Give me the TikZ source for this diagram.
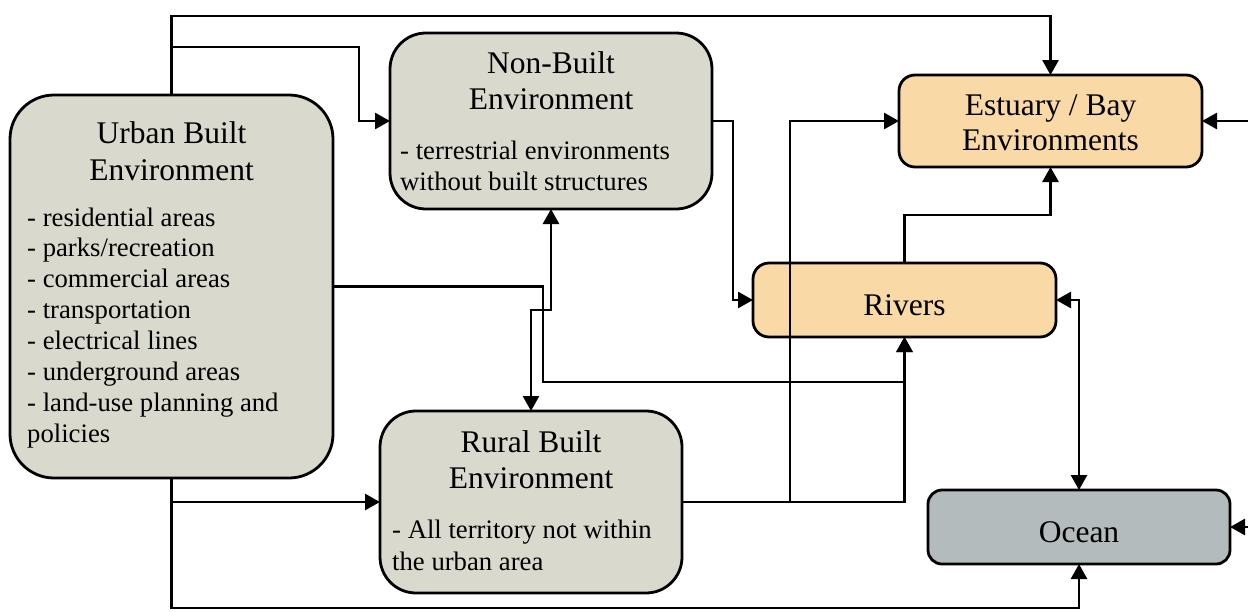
\documentclass[tikz,border=0pt]{standalone}
\usepackage{fontspec}
\setmainfont{Liberation Serif}
\usetikzlibrary{arrows.meta}

\definecolor{landfill}{HTML}{D9DACD}
\definecolor{waterfill}{HTML}{F9D9A6}
\definecolor{oceanfill}{HTML}{B4BBBC}

\tikzset{
  boxbase/.style={draw=black, line width=2.8pt, inner sep=0pt, outer sep=0pt},
  landbox/.style={boxbase, fill=landfill},
  waterbox/.style={boxbase, fill=waterfill, rounded corners=16pt},
  oceanbox/.style={boxbase, fill=oceanfill, rounded corners=14pt},
  titletext/.style={anchor=base, inner sep=0pt, font=\fontsize{31.5}{36}\selectfont},
  itemtext/.style={anchor=base west, inner sep=0pt, font=\fontsize{26.7}{31}\selectfont},
  conn/.style={draw=black, line width=2.7pt},
  tip/.style={Triangle[length=15pt 0 0,width=16pt 0 0]},
  arr/.style={conn, -{Triangle[length=15pt 0 0,width=16pt 0 0]}},
  biarr/.style={conn, {Triangle[length=15pt 0 0,width=16pt 0 0]}-{Triangle[length=15pt 0 0,width=16pt 0 0]}}
}

\begin{document}
\begin{tikzpicture}[x=1pt, y=-1pt]
\useasboundingbox (0,0) rectangle (1248,611);

% boxes
\node[landbox, rounded corners=44pt, minimum width=323pt, minimum height=383pt] (urban) at (171.5,286.5) {};
\node[landbox, rounded corners=36pt, minimum width=322pt, minimum height=176pt] (nonbuilt) at (551,121) {};
\node[landbox, rounded corners=36pt, minimum width=302pt, minimum height=182pt] (rural) at (531,502) {};
\node[waterbox, minimum width=303pt, minimum height=92pt] (estuary) at (1050.5,121) {};
\node[waterbox, minimum width=303pt, minimum height=74pt] (rivers) at (904.5,300) {};
\node[oceanbox, minimum width=302pt, minimum height=74pt] (ocean) at (1079,527) {};

% titles
\node[titletext] (urbanT1) at (171.5,143) {Urban Built};
\node[titletext] (urbanT2) at (171.5,180) {Environment};
\node[titletext] (nonbuiltT1) at (551,73) {Non-Built};
\node[titletext] (nonbuiltT2) at (551,109) {Environment};
\node[titletext] (ruralT1) at (531,452) {Rural Built};
\node[titletext] (ruralT2) at (531,488) {Environment};
\node[titletext] (estuaryT1) at (1050.5,115) {Estuary / Bay};
\node[titletext] (estuaryT2) at (1050.5,150) {Environments};
\node[titletext] (riversT) at (904.5,315) {Rivers};
\node[titletext] (oceanT) at (1079,542) {Ocean};

% item lists
\foreach \txt [count=\i] in {- residential areas, - parks/recreation, - commercial areas,
    - transportation, - electrical lines, - underground areas,
    - land-use planning and, policies}
  \node[itemtext] (urbanI\i) at (27,{226+30.9*(\i-1)}) {\txt};
\node[itemtext] (nonbuiltI1) at (400,159) {- terrestrial environments};
\node[itemtext] (nonbuiltI2) at (400,190) {without built structures};
\node[itemtext] (ruralI1) at (392,538) {- All territory not within};
\node[itemtext] (ruralI2) at (392,570) {the urban area};

% junctions and free ends
\coordinate (jTop) at (171.5,47);
\coordinate (jLow) at (171.5,502);
\coordinate (jRural) at (790,502);
\coordinate (edgeE) at (1248,121);
\coordinate (edgeO) at (1248,527);

% connectors
\draw[arr] (urban.north) -- (171.5,16) -| (estuary.north);
\draw[arr] (jTop) -- (359,47) |- (nonbuilt.west);
\draw[arr] (urban.east) -| (543,382) -| (rivers.south);
\draw[arr] (rural.east) -| (rivers.south);
\draw[arr] (jRural) |- (estuary.west);
\draw[biarr] (nonbuilt.south) -- (551,310) -| (rural.north);
\draw[arr] (nonbuilt.east) -- (733,121) |- (rivers.west);
\draw[arr] (rivers.north) -- (904.5,215) -| (estuary.south);
\draw[biarr] (rivers.east) -| (ocean.north);
\draw[arr] (urban.south) -- (171.5,608) -| (ocean.south);
\draw[arr] (jLow) -- (rural.west);
\draw[arr] (edgeE) -- (estuary.east);
\draw[arr] (edgeO) -- (ocean.east);
\end{tikzpicture}
\end{document}
